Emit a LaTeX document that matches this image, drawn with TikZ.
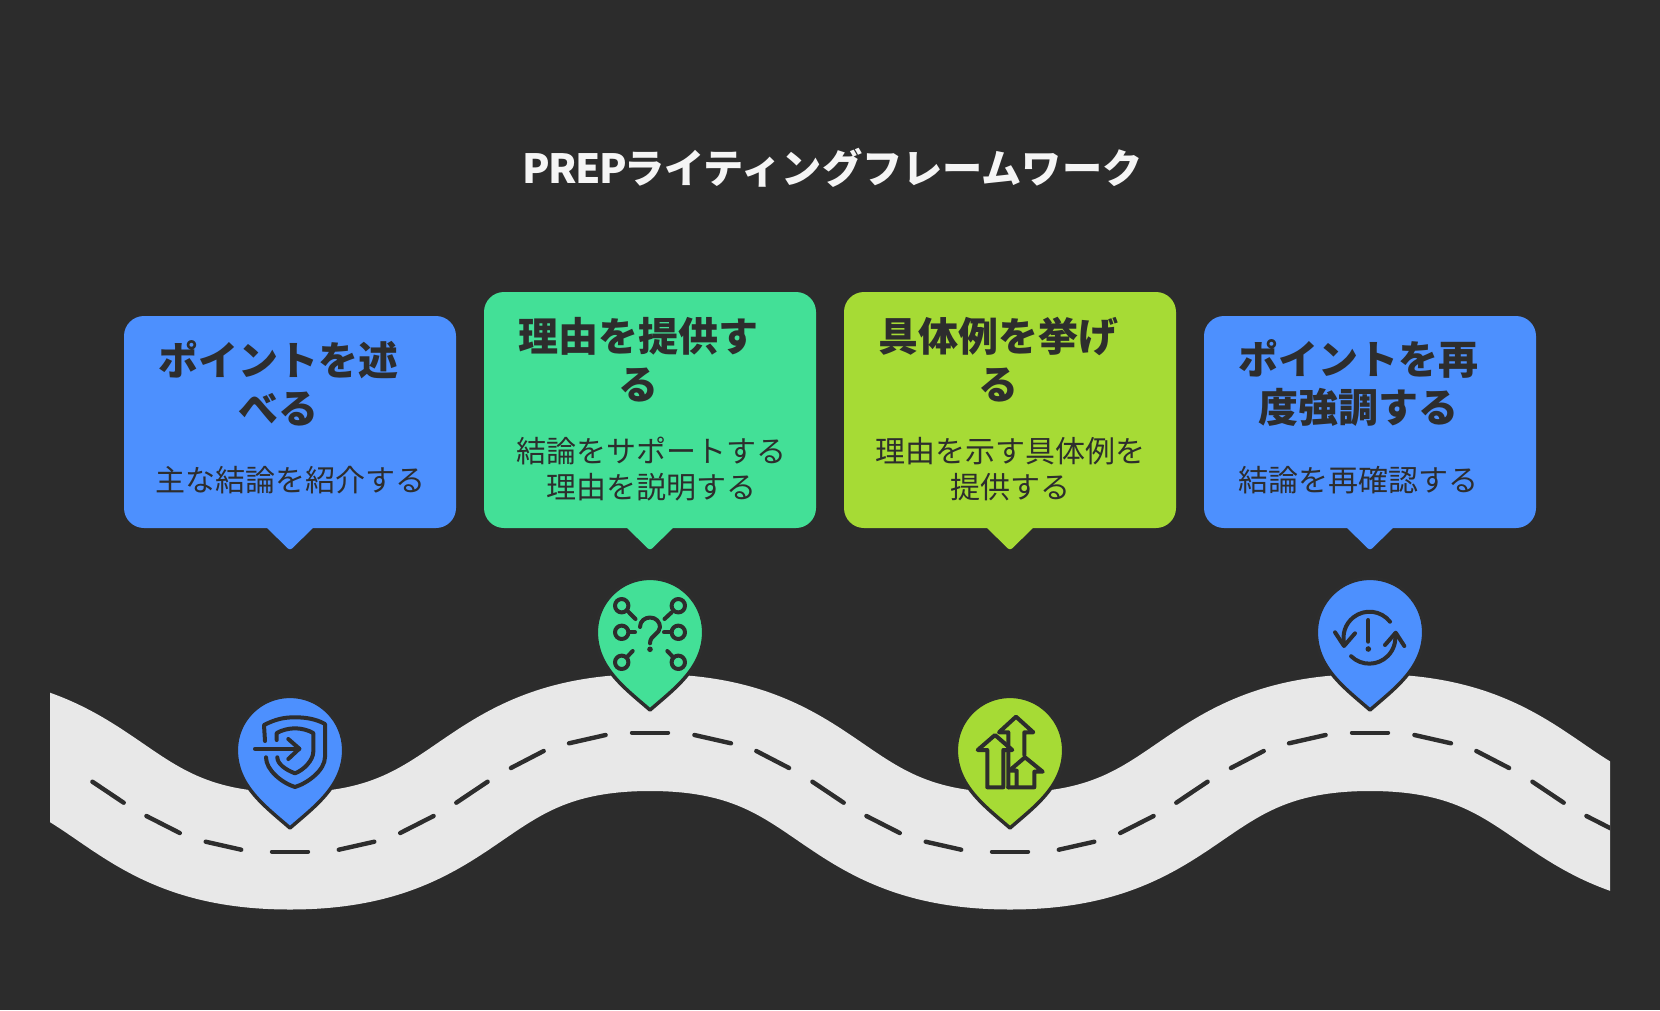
\documentclass[tikz,border=0pt]{standalone}
\usepackage{fontspec}
\setmainfont{Noto Sans CJK JP}
\definecolor{ptbg}{HTML}{2C2C2C}
\definecolor{ptink}{HTML}{2D2D2D}
\definecolor{ptroad}{HTML}{E8E8E8}
\definecolor{ptblue}{HTML}{4D90FE}
\definecolor{ptgreen}{HTML}{43E097}
\definecolor{ptlime}{HTML}{A6DB35}
\tikzset{
  headtext/.style={text=ptink,inner sep=0pt,align=center,font=\bfseries\fontsize{40}{48}\selectfont},
  bodytext/.style={text=ptink,inner sep=0pt,align=center,font=\fontsize{30}{36}\selectfont},
  iconline/.style={draw=ptink,line width=4pt,line cap=round,line join=round},
  roaddash/.style={draw=ptink,line width=4.4pt,line cap=round},
}
\def\roadpath{(-70,732.5) .. controls (117.2,732.5) and (102.8,851) .. (290,851)
  .. controls (477.2,851) and (462.8,732.5) .. (650,732.5)
  .. controls (837.2,732.5) and (822.8,851) .. (1010,851)
  .. controls (1197.2,851) and (1182.8,732.5) .. (1370,732.5)
  .. controls (1557.2,732.5) and (1542.8,851) .. (1730,851)}
\begin{document}
\begin{tikzpicture}[x=1pt,y=-1pt]
  \fill[ptbg] (0,0) rectangle (1660,1010);
  \useasboundingbox (0,0) rectangle (1660,1010);
  \node[text=white!96!black,inner sep=0pt,font=\bfseries\fontsize{40.2}{48}\selectfont] (title) at (832.5,168) {{\addfontfeature{LetterSpace=-3.5}PREP}\kern-3ptライティングフレームワーク};
  \begin{scope}
    \clip (50,0) rectangle (1610,1010);
    \draw[ptroad,line width=117pt] \roadpath;
  \end{scope}
  \begin{scope}
    \clip (75,0) rectangle (1610,1010);
    \foreach \tx in {290,1010,1730}{
      \draw[roaddash] (\tx-18,851.7) -- (\tx+18,851.7);
      \draw[roaddash] (\tx+342,732.7) -- (\tx+378,732.7);
      \foreach \ax/\ay/\cx/\cy in {48.8/-2/84.3/-10,110.2/-18.7/143.6/-35.7,166.3/-49/197.6/-70,220.9/-83.7/253.7/-100.7,279/-108.4/315.6/-116.7}{
        \draw[roaddash] (\tx+\ax,851.7+\ay) -- (\tx+\cx,851.7+\cy);
        \draw[roaddash] (\tx-\ax,851.7+\ay) -- (\tx-\cx,851.7+\cy);
      }
    }
  \end{scope}
  \foreach \bx/\by/\bc in {290/316/ptblue,650/292/ptgreen,1010/292/ptlime,1370/316/ptblue}{
    \fill[\bc,rounded corners=20pt] (\bx-166,\by) rectangle (\bx+166,528);
    \fill[\bc,rounded corners=3pt] (\bx-26,525) -- (\bx,550.5) -- (\bx+26,525) -- cycle;
  }
  \foreach \px/\py/\pc in {290/750/ptblue,650/632/ptgreen,1010/750/ptlime,1370/632/ptblue}{
    \draw[ptink,line width=3.5pt,line join=round,fill=\pc,shift={(\px,\py)}]
      (0,78) .. controls (-24,57) and (-53.7,36) .. (-53.7,0)
      arc[start angle=180,end angle=360,radius=53.7]
      .. controls (53.7,36) and (24,57) .. (0,78) -- cycle;
  }
  \node[headtext] (head1) at (278,383) {ポイントを述\\べる};
  \node[bodytext] (body1) at (290.5,480) {主な結論を紹介する};
  \node[headtext] (head2) at (638,360) {理由を提供す\\る};
  \node[bodytext] (body2) at (651,469) {結論をサポートする\\理由を説明する};
  \node[headtext] (head3) at (998,360) {具体例を挙げ\\る};
  \node[bodytext] (body3) at (1010.5,469) {理由を示す具体例を\\提供する};
  \node[headtext] (head4) at (1358,383) {ポイントを再\\度強調する};
  \node[bodytext] (body4) at (1358.5,480) {結論を再確認する};
  \begin{scope}[shift={(290,750)}]
    \draw[iconline] (-35,-1.3) -- (9.3,-1.3);
    \draw[iconline] (-1.7,-11) -- (9.3,-1.3) -- (-1.7,9);
    \draw[iconline] (-25,-9) -- (-26,-25) .. controls (-14,-31) and (-6,-32.7) .. (5,-32.7)
      .. controls (16,-32.7) and (26,-31) .. (35,-26) -- (35,7)
      .. controls (35,20) and (18,33) .. (5,37) .. controls (-8,33) and (-24,20) .. (-24,7.3);
    \draw[iconline] (-13.3,-10) -- (-13.3,-17) .. controls (-8,-20) and (-1,-21.7) .. (5,-21.7)
      .. controls (11,-21.7) and (18,-20) .. (23.3,-17) -- (23.3,1.7)
      .. controls (23.3,10) and (14,20) .. (5,23.3) .. controls (-4,20) and (-12.7,14) .. (-12.7,7.3);
  \end{scope}
  \begin{scope}[shift={(650,632)}]
    \foreach \ix/\iy in {-28.3/-26.3,28.3/-26.3,-28.3/0.3,28.3/0.3,-28.3/30.3,28.3/30.3}{
      \draw[iconline] (\ix,\iy) circle[radius=6.7];
    }
    \draw[iconline] (-21.7,-20.3) -- (-14.5,-13);
    \draw[iconline] (21.7,-19.7) -- (14.5,-13);
    \draw[iconline] (-20.7,0.3) -- (-15,0.3);
    \draw[iconline] (20.7,0.3) -- (14,0.3);
    \draw[iconline] (-22.7,24.7) -- (-17.3,19);
    \draw[iconline] (22.7,24.7) -- (17.3,19);
    \draw[iconline] (-10,-5) .. controls (-10,-11) and (-5,-14.5) .. (0,-14.5)
      .. controls (6,-14.5) and (10,-10) .. (10,-5)
      .. controls (10,2) and (0,3) .. (0,11.3);
    \fill[ptink] (0,17.3) circle[radius=2.8];
  \end{scope}
  \begin{scope}[shift={(1010,750)}]
    \draw[iconline] (-15,-15) -- (2.3,0) -- (-6.7,0) -- (-6.7,37.3) -- (-22.7,37.3) -- (-22.7,0) -- (-32.3,0) -- cycle;
    \draw[iconline] (-1.7,37.3) -- (-1.7,-17.7) -- (-11,-17.7) -- (6,-33.3) -- (23.3,-17.7) -- (14.3,-17.7) -- (14.3,5);
    \draw[iconline] (6.7,37.3) -- (6.7,20.7) -- (-0.7,20.7) -- (15,7.3) -- (32.7,21.7) -- (24.3,21.7) -- (24.3,37.3) -- (-1.7,37.3);
  \end{scope}
  \begin{scope}[shift={(1370,632)}]
    \draw[iconline] (-1.7,-12) -- (-1.7,9.7);
    \fill[ptink] (-1.7,17) circle[radius=2.8];
    \draw[iconline] (20,-10.3) arc[start angle=322,end angle=164,radius=26];
    \draw[iconline] (-18.9,24.2) arc[start angle=134.5,end angle=-8,radius=26];
    \draw[iconline] (-35,0.3) -- (-26,14) -- (-15,1.3);
    \draw[iconline] (15,13) -- (25.7,0.7) -- (34.3,14);
  \end{scope}
\end{tikzpicture}
\end{document}
